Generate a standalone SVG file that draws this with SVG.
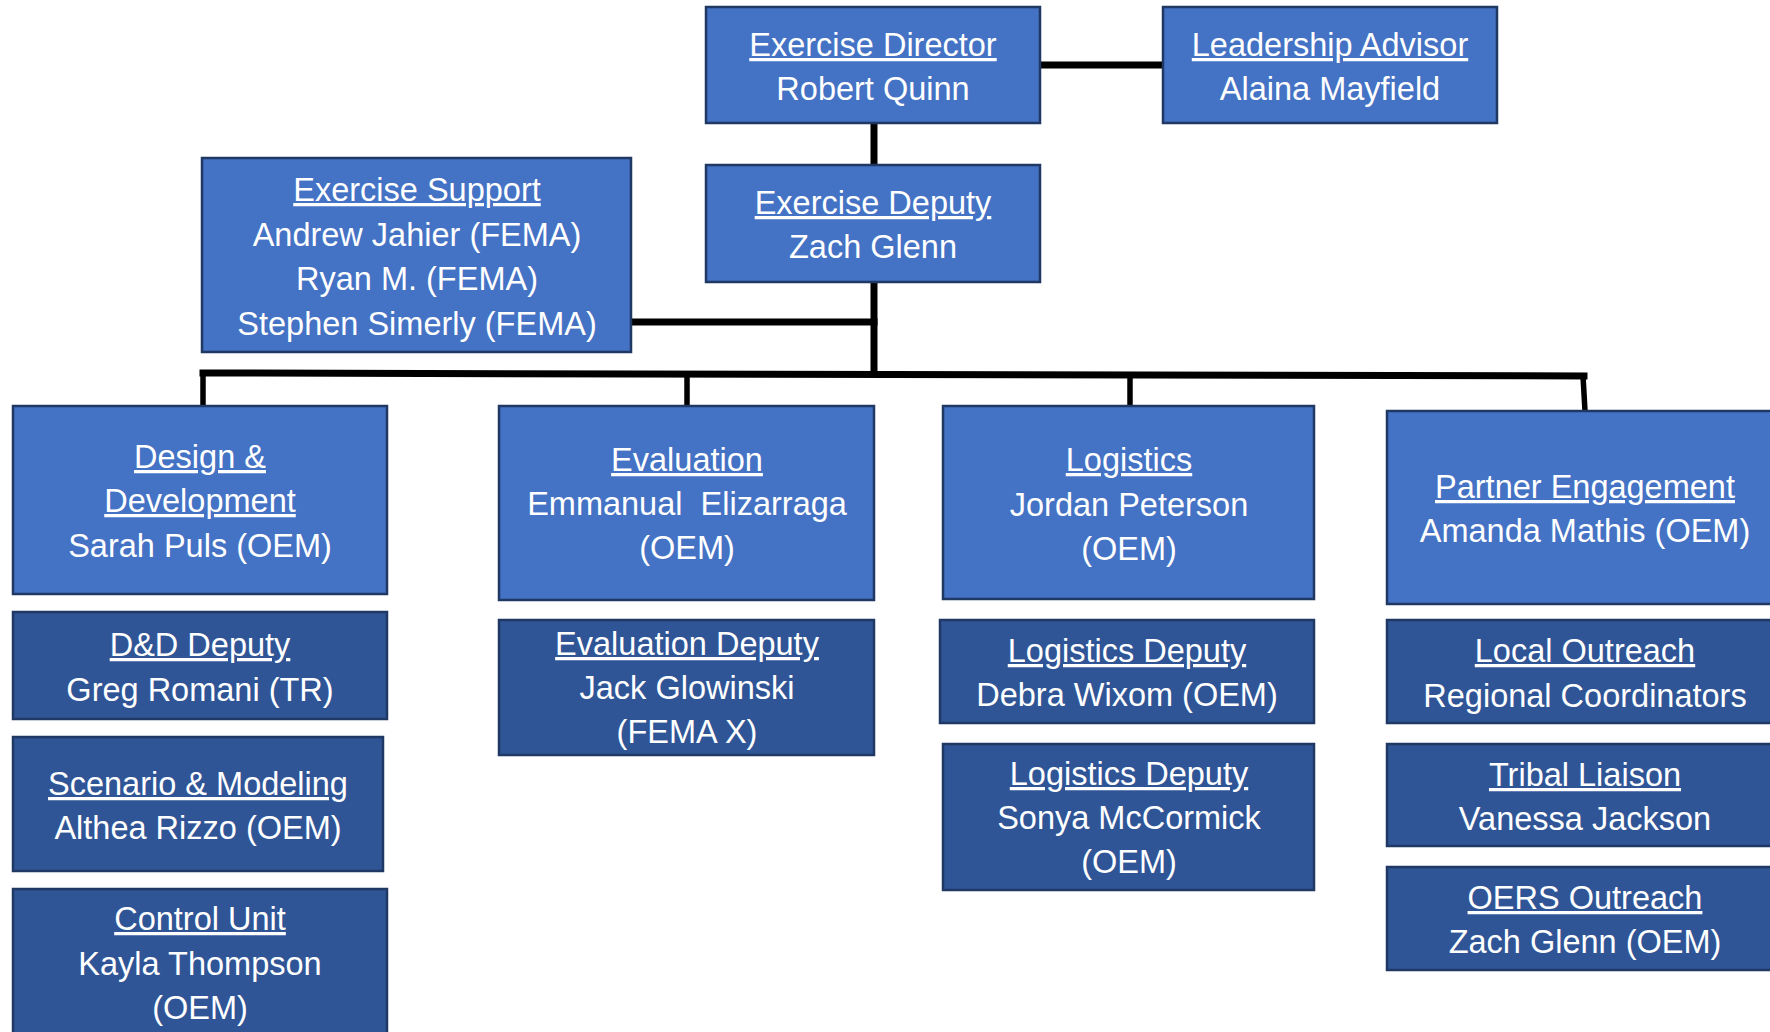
<svg xmlns="http://www.w3.org/2000/svg" width="1770" height="1032" viewBox="0 0 1770 1032">
<style>
.top{fill:#4472C4;stroke:#1F3864;stroke-width:2.5}
.sub{fill:#2F5597;stroke:#1F3864;stroke-width:2.5}
text{font-family:"Liberation Sans",Arial,sans-serif;font-size:32.5px;fill:#FFFFFF;text-anchor:middle}
.h{text-decoration:underline}
.c{stroke:#000000;fill:none;stroke-linecap:square}
</style>
<rect width="1770" height="1032" fill="#FFFFFF"/>
<g id="connectors">
<line class="c" x1="1040" y1="65" x2="1163" y2="65" stroke-width="7"/>
<line class="c" x1="874" y1="123" x2="874" y2="165" stroke-width="7"/>
<line class="c" x1="874" y1="282" x2="874" y2="373" stroke-width="7"/>
<line class="c" x1="631" y1="322" x2="874" y2="322" stroke-width="7"/>
<line class="c" x1="203" y1="373" x2="1584" y2="376" stroke-width="7"/>
<line class="c" x1="203" y1="373" x2="203" y2="406" stroke-width="5.5"/>
<line class="c" x1="687" y1="374" x2="687" y2="406" stroke-width="5.5"/>
<line class="c" x1="1130" y1="375" x2="1130" y2="406" stroke-width="5.5"/>
<line class="c" x1="1583" y1="376" x2="1585" y2="411" stroke-width="5.5"/>
</g>
<g id="exercise-director">
<rect class="top" x="706" y="7" width="334" height="116"/>
<text class="h" x="873" y="56">Exercise Director</text>
<text x="873" y="100">Robert Quinn</text>
</g>
<g id="leadership-advisor">
<rect class="top" x="1163" y="7" width="334" height="116"/>
<text class="h" x="1330" y="56">Leadership Advisor</text>
<text x="1330" y="100">Alaina Mayfield</text>
</g>
<g id="exercise-deputy">
<rect class="top" x="706" y="165" width="334" height="117"/>
<text class="h" x="873" y="214">Exercise Deputy</text>
<text x="873" y="258">Zach Glenn</text>
</g>
<g id="exercise-support">
<rect class="top" x="202" y="158" width="429" height="194"/>
<text class="h" x="417" y="201">Exercise Support</text>
<text x="417" y="246">Andrew Jahier (FEMA)</text>
<text x="417" y="290">Ryan M. (FEMA)</text>
<text x="417" y="335">Stephen Simerly (FEMA)</text>
</g>
<g id="design-development">
<rect class="top" x="13" y="406" width="374" height="188"/>
<text class="h" x="200" y="468">Design &amp;</text>
<text class="h" x="200" y="512">Development</text>
<text x="200" y="557">Sarah Puls (OEM)</text>
</g>
<g id="dd-deputy">
<rect class="sub" x="13" y="612" width="374" height="107"/>
<text class="h" x="200" y="656">D&amp;D Deputy</text>
<text x="200" y="701">Greg Romani (TR)</text>
</g>
<g id="scenario-modeling">
<rect class="sub" x="13" y="737" width="370" height="134"/>
<text class="h" x="198" y="795">Scenario &amp; Modeling</text>
<text x="198" y="839">Althea Rizzo (OEM)</text>
</g>
<g id="control-unit">
<rect class="sub" x="13" y="889" width="374" height="160"/>
<text class="h" x="200" y="930">Control Unit</text>
<text x="200" y="975">Kayla Thompson</text>
<text x="200" y="1019">(OEM)</text>
</g>
<g id="evaluation">
<rect class="top" x="499" y="406" width="375" height="194"/>
<text class="h" x="687" y="471">Evaluation</text>
<text x="687" y="515" xml:space="preserve">Emmanual  Elizarraga</text>
<text x="687" y="559">(OEM)</text>
</g>
<g id="evaluation-deputy">
<rect class="sub" x="499" y="620" width="375" height="135"/>
<text class="h" x="687" y="655">Evaluation Deputy</text>
<text x="687" y="699">Jack Glowinski</text>
<text x="687" y="743">(FEMA X)</text>
</g>
<g id="logistics">
<rect class="top" x="943" y="406" width="371" height="193"/>
<text class="h" x="1129" y="471">Logistics</text>
<text x="1129" y="516">Jordan Peterson</text>
<text x="1129" y="560">(OEM)</text>
</g>
<g id="logistics-deputy-1">
<rect class="sub" x="940" y="620" width="374" height="103"/>
<text class="h" x="1127" y="662">Logistics Deputy</text>
<text x="1127" y="706">Debra Wixom (OEM)</text>
</g>
<g id="logistics-deputy-2">
<rect class="sub" x="943" y="744" width="371" height="146"/>
<text class="h" x="1129" y="785">Logistics Deputy</text>
<text x="1129" y="829">Sonya McCormick</text>
<text x="1129" y="873">(OEM)</text>
</g>
<g id="partner-engagement">
<rect class="top" x="1387" y="411" width="400" height="193"/>
<text class="h" x="1585" y="498">Partner Engagement</text>
<text x="1585" y="542">Amanda Mathis (OEM)</text>
</g>
<g id="local-outreach">
<rect class="sub" x="1387" y="620" width="400" height="103"/>
<text class="h" x="1585" y="662">Local Outreach</text>
<text x="1585" y="707">Regional Coordinators</text>
</g>
<g id="tribal-liaison">
<rect class="sub" x="1387" y="744" width="400" height="102"/>
<text class="h" x="1585" y="786">Tribal Liaison</text>
<text x="1585" y="830">Vanessa Jackson</text>
</g>
<g id="oers-outreach">
<rect class="sub" x="1387" y="867" width="400" height="103"/>
<text class="h" x="1585" y="909">OERS Outreach</text>
<text x="1585" y="953">Zach Glenn (OEM)</text>
</g>
</svg>
